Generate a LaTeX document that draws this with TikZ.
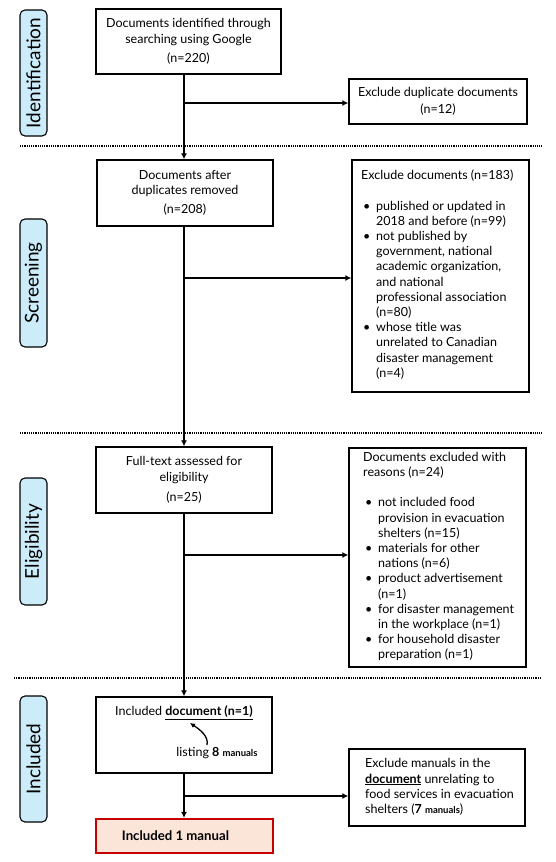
\documentclass[tikz,border=0pt]{standalone}
\usepackage{fontspec}
\setmainfont{Lato}
\usetikzlibrary{arrows.meta}
\definecolor{phasefill}{HTML}{CCECFA}
\definecolor{peach}{HTML}{FBE4D8}
\definecolor{dred}{HTML}{C40000}
\newcommand{\bul}{\makebox[15pt][l]{\hspace{2pt}\textbullet}}
\newcommand{\ind}{\hspace*{15pt}}
\begin{document}
\begin{tikzpicture}[x=1pt,y=-1pt,
  base/.style={font=\fontsize{12.5}{15.2}\selectfont},
  box/.style={draw, line width=1.3pt, inner sep=0pt, base},
  cbox/.style={box, align=center},
  txt/.style={inner sep=0pt, align=left, base},
  phase/.style={draw, line width=1.1pt, fill=phasefill, rounded corners=5pt, rotate=90,
    minimum height=27pt, inner sep=0pt, font=\fontsize{19}{21}\selectfont},
  arr/.style={line width=1.8pt, -{Latex[length=6pt,width=6pt]}},
  sep/.style={line width=1.2pt, dash pattern=on 1.2pt off 1pt},
]
\useasboundingbox (0,0) rectangle (555,862);

% phase labels
\node[phase, minimum width=126pt] (p1) at (33.5,73) {Identification};
\node[phase, minimum width=128pt] (p2) at (33.5,283) {Screening};
\node[phase, minimum width=127pt] (p3) at (33.5,541.5) {Eligibility};
\node[phase, minimum width=126pt] (p4) at (33.5,759) {Included};

% separators
\draw[sep] (20,146) -- (542,146);
\draw[sep] (20,433) -- (542,433);
\draw[sep] (14,678) -- (542,678);

% boxes
\node[cbox, minimum width=185pt, minimum height=65pt] (b1) at (188.5,41.5)
  {Documents identified through\\searching using Google\\[4pt](n=220)};
\node[cbox, minimum width=178pt, minimum height=45pt] (b2) at (438,101.5)
  {Exclude duplicate documents\\[1.5pt](n=12)};
\node[cbox, minimum width=176pt, minimum height=66pt] (b3) at (185,193)
  {Documents after\\duplicates removed\\[4pt](n=208)};
\node[box, minimum width=177pt, minimum height=232pt] (b4) at (440.5,276) {};
\node[txt, anchor=west] (b4t) at (361,274.5) {Exclude documents (n=183)\\[15.2pt]
\bul published or updated in\\
\ind 2018 and before (n=99)\\
\bul not published by\\
\ind government, national\\
\ind academic organization,\\
\ind and national\\
\ind professional association\\
\ind (n=80)\\
\bul whose title was\\
\ind unrelated to Canadian\\
\ind disaster management\\
\ind (n=4)};
\node[cbox, minimum width=176pt, minimum height=66pt] (b5) at (184,480)
  {Full-text assessed for\\eligibility\\[5pt](n=25)};
\node[box, minimum width=177pt, minimum height=219pt] (b6) at (437.5,557.5) {};
\node[txt, anchor=west] (b6t) at (363,556.5) {Documents excluded with\\
reasons (n=24)\\[15.2pt]
\bul not included food\\
\ind provision in evacuation\\
\ind shelters (n=15)\\
\bul materials for other\\
\ind nations (n=6)\\
\bul product advertisement\\
\ind (n=1)\\
\bul for disaster management\\
\ind in the workplace (n=1)\\
\bul for household disaster\\
\ind preparation (n=1)};
\node[box, minimum width=176pt, minimum height=76pt] (b7) at (184,735) {};
\node[txt] (t7a) at (184,713) {Included \underline{\textbf{document (n=1)}}};
\node[txt] (t7b) at (217,753) {listing \textbf{8} {\fontsize{9.5}{10}\selectfont\bfseries manuals}};
\node[box, minimum width=176pt, minimum height=77pt] (b9) at (437,787.5) {};
\node[txt, anchor=west] (b9t) at (365,787) {Exclude manuals in the\\
\underline{\textbf{document}} unrelating to\\
food services in evacuation\\
shelters (\textbf{7} {\fontsize{9.5}{10}\selectfont\bfseries manuals})};
\node[box, draw=dred, line width=2.2pt, fill=peach, minimum width=177pt, minimum height=34pt,
  font=\fontsize{13.2}{15}\selectfont\bfseries] (b8) at (184.5,836) {Included 1 manual\hspace*{18pt}};

% main flow
\coordinate (vx) at (184,0);
\draw[arr] (b1.south -| vx) -- (b3.north -| vx);
\draw[arr] (b3.south -| vx) -- (b5.north -| vx);
\draw[arr] (b5.south -| vx) -- (b7.north -| vx);
\draw[arr] (b7.south -| vx) -- (b8.north -| vx);

% branches
\coordinate (j1) at (184,103);
\coordinate (j2) at (184,278);
\coordinate (j3) at (184,555);
\coordinate (j4) at (184,796);
\draw[arr] (j1) -- (j1 -| b2.west);
\draw[arr] (j2) -- (j2 -| b4.west);
\draw[arr] (j3) -- (j3 -| b6.west);
\draw[arr] (j4) -- (j4 -| b9.west);

% curved pointer
\coordinate (c1) at (207,745);
\coordinate (c2) at (190,723);
\draw[line width=1.3pt, -{Latex[length=5pt,width=5pt]}] (c1) .. controls (209,736) and (199,729) .. (c2);
\end{tikzpicture}
\end{document}
